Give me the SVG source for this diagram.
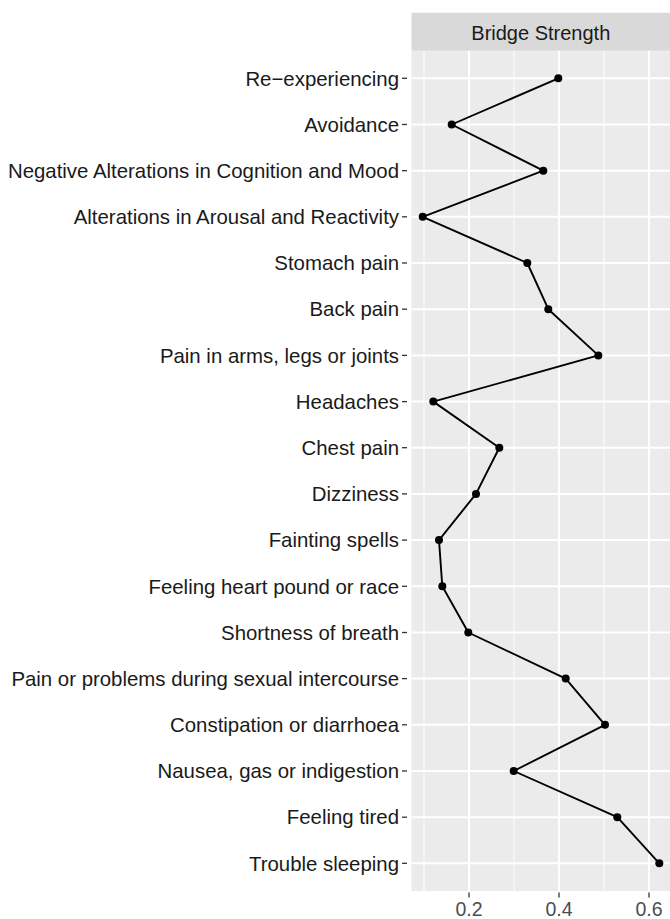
<svg xmlns="http://www.w3.org/2000/svg" width="670" height="919" viewBox="0 0 670 919">
<style>
.lbl{font-family:"Liberation Sans",Arial,Helvetica,sans-serif;font-size:20.4px;fill:#1a1a1a;text-anchor:end}
.xl{font-family:"Liberation Sans",Arial,Helvetica,sans-serif;font-size:19.5px;fill:#4d4d4d;text-anchor:middle}
.strip{font-family:"Liberation Sans",Arial,Helvetica,sans-serif;font-size:20px;fill:#1a1a1a;text-anchor:middle}
.gmaj{stroke:#ffffff;stroke-width:2}
.gmin{stroke:#ffffff;stroke-width:1}
.tick{stroke:#333333;stroke-width:1.3}
.pt{fill:#000000}
</style>
<rect width="670" height="919" fill="#ffffff"/>
<g id="panel">
<rect x="411.5" y="50.7" width="258.5" height="840.3" fill="#ebebeb"/>
<g id="grid-minor">
<line class="gmin" x1="424" y1="50.7" x2="424" y2="891"/>
<line class="gmin" x1="514" y1="50.7" x2="514" y2="891"/>
<line class="gmin" x1="604" y1="50.7" x2="604" y2="891"/>
</g>
<g id="grid-major">
<line class="gmaj" x1="469" y1="50.7" x2="469" y2="891"/>
<line class="gmaj" x1="559" y1="50.7" x2="559" y2="891"/>
<line class="gmaj" x1="649" y1="50.7" x2="649" y2="891"/>
<line class="gmaj" x1="411.5" y1="78.3" x2="670" y2="78.3"/>
<line class="gmaj" x1="411.5" y1="124.5" x2="670" y2="124.5"/>
<line class="gmaj" x1="411.5" y1="170.7" x2="670" y2="170.7"/>
<line class="gmaj" x1="411.5" y1="216.8" x2="670" y2="216.8"/>
<line class="gmaj" x1="411.5" y1="263" x2="670" y2="263"/>
<line class="gmaj" x1="411.5" y1="309.2" x2="670" y2="309.2"/>
<line class="gmaj" x1="411.5" y1="355.4" x2="670" y2="355.4"/>
<line class="gmaj" x1="411.5" y1="401.6" x2="670" y2="401.6"/>
<line class="gmaj" x1="411.5" y1="447.7" x2="670" y2="447.7"/>
<line class="gmaj" x1="411.5" y1="493.9" x2="670" y2="493.9"/>
<line class="gmaj" x1="411.5" y1="540.1" x2="670" y2="540.1"/>
<line class="gmaj" x1="411.5" y1="586.3" x2="670" y2="586.3"/>
<line class="gmaj" x1="411.5" y1="632.5" x2="670" y2="632.5"/>
<line class="gmaj" x1="411.5" y1="678.6" x2="670" y2="678.6"/>
<line class="gmaj" x1="411.5" y1="724.8" x2="670" y2="724.8"/>
<line class="gmaj" x1="411.5" y1="771" x2="670" y2="771"/>
<line class="gmaj" x1="411.5" y1="817.2" x2="670" y2="817.2"/>
<line class="gmaj" x1="411.5" y1="863.3" x2="670" y2="863.3"/>
</g>
</g>
<g id="strip">
<rect x="411.5" y="12.7" width="258.5" height="38" fill="#d9d9d9"/>
<text class="strip" x="540.8" y="39.5">Bridge Strength</text>
</g>
<g id="x-axis">
<line class="tick" x1="469" y1="892.5" x2="469" y2="897.5"/>
<line class="tick" x1="559" y1="892.5" x2="559" y2="897.5"/>
<line class="tick" x1="649" y1="892.5" x2="649" y2="897.5"/>
<text class="xl" x="469" y="916">0.2</text>
<text class="xl" x="559" y="916">0.4</text>
<text class="xl" x="649" y="916">0.6</text>
</g>
<g id="connectors">
<polyline fill="none" stroke="#000000" stroke-width="1.9" stroke-linejoin="round" points="558.3,78.3 451.7,124.5 543.3,170.7 422.7,216.8 527.3,263 548.3,309.2 598.3,355.4 433.3,401.6 499.3,447.7 476,493.9 439,540.1 442.3,586.3 468.3,632.5 565.7,678.6 605,724.8 513.7,771 617.3,817.2 659.3,863.3"/>
</g>
<g id="n-reexperiencing"><text class="lbl" x="399" y="85.5">Re−experiencing</text><line class="tick" x1="402" y1="78.3" x2="407" y2="78.3"/><circle class="pt" cx="558.3" cy="78.3" r="4"/></g>
<g id="n-avoidance"><text class="lbl" x="399" y="131.7">Avoidance</text><line class="tick" x1="402" y1="124.5" x2="407" y2="124.5"/><circle class="pt" cx="451.7" cy="124.5" r="4"/></g>
<g id="n-negative"><text class="lbl" x="399" y="177.9">Negative Alterations in Cognition and Mood</text><line class="tick" x1="402" y1="170.7" x2="407" y2="170.7"/><circle class="pt" cx="543.3" cy="170.7" r="4"/></g>
<g id="n-arousal"><text class="lbl" x="399" y="224">Alterations in Arousal and Reactivity</text><line class="tick" x1="402" y1="216.8" x2="407" y2="216.8"/><circle class="pt" cx="422.7" cy="216.8" r="4"/></g>
<g id="n-stomach"><text class="lbl" x="399" y="270.2">Stomach pain</text><line class="tick" x1="402" y1="263" x2="407" y2="263"/><circle class="pt" cx="527.3" cy="263" r="4"/></g>
<g id="n-back"><text class="lbl" x="399" y="316.4">Back pain</text><line class="tick" x1="402" y1="309.2" x2="407" y2="309.2"/><circle class="pt" cx="548.3" cy="309.2" r="4"/></g>
<g id="n-arms"><text class="lbl" x="399" y="362.6">Pain in arms, legs or joints</text><line class="tick" x1="402" y1="355.4" x2="407" y2="355.4"/><circle class="pt" cx="598.3" cy="355.4" r="4"/></g>
<g id="n-headaches"><text class="lbl" x="399" y="408.8">Headaches</text><line class="tick" x1="402" y1="401.6" x2="407" y2="401.6"/><circle class="pt" cx="433.3" cy="401.6" r="4"/></g>
<g id="n-chest"><text class="lbl" x="399" y="454.9">Chest pain</text><line class="tick" x1="402" y1="447.7" x2="407" y2="447.7"/><circle class="pt" cx="499.3" cy="447.7" r="4"/></g>
<g id="n-dizziness"><text class="lbl" x="399" y="501.1">Dizziness</text><line class="tick" x1="402" y1="493.9" x2="407" y2="493.9"/><circle class="pt" cx="476" cy="493.9" r="4"/></g>
<g id="n-fainting"><text class="lbl" x="399" y="547.3">Fainting spells</text><line class="tick" x1="402" y1="540.1" x2="407" y2="540.1"/><circle class="pt" cx="439" cy="540.1" r="4"/></g>
<g id="n-heart"><text class="lbl" x="399" y="593.5">Feeling heart pound or race</text><line class="tick" x1="402" y1="586.3" x2="407" y2="586.3"/><circle class="pt" cx="442.3" cy="586.3" r="4"/></g>
<g id="n-breath"><text class="lbl" x="399" y="639.7">Shortness of breath</text><line class="tick" x1="402" y1="632.5" x2="407" y2="632.5"/><circle class="pt" cx="468.3" cy="632.5" r="4"/></g>
<g id="n-sexual"><text class="lbl" x="399" y="685.8">Pain or problems during sexual intercourse</text><line class="tick" x1="402" y1="678.6" x2="407" y2="678.6"/><circle class="pt" cx="565.7" cy="678.6" r="4"/></g>
<g id="n-constipation"><text class="lbl" x="399" y="732">Constipation or diarrhoea</text><line class="tick" x1="402" y1="724.8" x2="407" y2="724.8"/><circle class="pt" cx="605" cy="724.8" r="4"/></g>
<g id="n-nausea"><text class="lbl" x="399" y="778.2">Nausea, gas or indigestion</text><line class="tick" x1="402" y1="771" x2="407" y2="771"/><circle class="pt" cx="513.7" cy="771" r="4"/></g>
<g id="n-tired"><text class="lbl" x="399" y="824.4">Feeling tired</text><line class="tick" x1="402" y1="817.2" x2="407" y2="817.2"/><circle class="pt" cx="617.3" cy="817.2" r="4"/></g>
<g id="n-sleeping"><text class="lbl" x="399" y="870.5">Trouble sleeping</text><line class="tick" x1="402" y1="863.3" x2="407" y2="863.3"/><circle class="pt" cx="659.3" cy="863.3" r="4"/></g>
</svg>
